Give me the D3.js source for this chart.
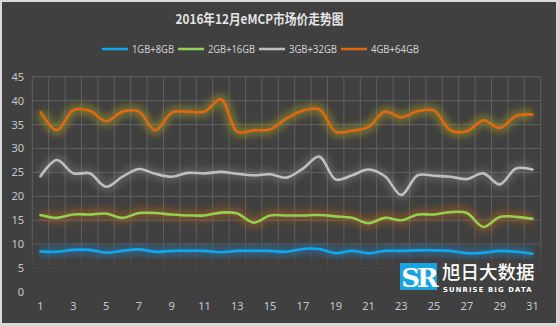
<!DOCTYPE html>
<html>
<head>
<meta charset="utf-8">
<script src="https://cdn.jsdelivr.net/npm/d3@7/dist/d3.min.js"></script>
<style>
  html, body { margin: 0; padding: 0; background: #d9d9d9; }
  svg { display: block; }
</style>
</head>
<body>
<svg id="chart" width="559" height="326"></svg>
<script>
// December 2016 eMCP market prices, one value per day
const days = d3.range(1, 32);
const seriesNames = ["1GB+8GB", "2GB+16GB", "3GB+32GB", "4GB+64GB"];
const price1GB8GB = [8.5, 8.4, 8.8, 8.8, 8.2, 8.6, 8.9, 8.4, 8.6, 8.6,
  8.6, 8.3, 8.6, 8.6, 8.6, 8.4, 9.0, 9.0, 8.1, 8.6,
  8.1, 8.6, 8.6, 8.7, 8.7, 8.6, 8.1, 8.2, 8.6, 8.4, 8.0];
const price2GB16GB = [16.1, 15.5, 16.2, 16.2, 16.4, 15.5, 16.5, 16.5, 16.2, 16.0,
  16.0, 16.6, 16.4, 14.5, 16.0, 16.0, 16.0, 16.1, 15.8, 15.5,
  14.4, 15.5, 15.0, 16.2, 16.2, 16.7, 16.5, 13.6, 15.7, 15.7, 15.3];
const price3GB32GB = [24.2, 27.6, 24.8, 24.8, 22.0, 24.1, 25.7, 24.7, 24.1, 24.9,
  24.8, 25.1, 24.7, 24.4, 24.6, 23.9, 25.8, 28.3, 23.5, 24.4,
  25.6, 24.2, 20.3, 24.4, 24.3, 24.1, 23.6, 24.8, 22.5, 25.8, 25.6];
const price4GB64GB = [37.6, 33.8, 38.0, 37.9, 35.7, 37.7, 37.7, 33.8, 37.5, 37.7,
  37.7, 40.3, 33.5, 33.8, 34.0, 36.3, 37.9, 38.2, 33.5, 33.7,
  34.5, 37.7, 36.5, 37.8, 37.9, 33.8, 33.6, 35.9, 34.3, 36.8, 37.1];
const yTicks = [0, 5, 10, 15, 20, 25, 30, 35, 40, 45];
const xTickDays = days.filter(d => d % 2 === 1);

const lineColors = ["#0fa8ec", "#92d050", "#bfbfbf", "#e2680f"];
const glowColors = ["#1f7fc0", "#b8621c", "#9a9a9a", "#a8a028"];
const glowOpacity = [0.45, 0.45, 0.28, 0.45];
const seriesValues = [price1GB8GB, price2GB16GB, price3GB32GB, price4GB64GB];

const svg = d3.select("#chart");
const W = 559, H = 326;

// frame
svg.append("rect").attr("x", 0).attr("y", 0).attr("width", W).attr("height", H).attr("fill", "#d9d9d9");
svg.append("rect").attr("x", 2).attr("y", 2).attr("width", 554).attr("height", 321).attr("fill", "#404040");

const defs = svg.append("defs");
const blur = defs.append("filter").attr("id", "glow")
  .attr("x", "-10%").attr("y", "-100%").attr("width", "120%").attr("height", "300%");
blur.append("feGaussianBlur").attr("stdDeviation", 3.2);

// grid fades out toward the bottom
const fade = defs.append("linearGradient").attr("id", "fade")
  .attr("gradientUnits", "userSpaceOnUse").attr("x1", 0).attr("y1", 70).attr("x2", 0).attr("y2", 295);
fade.append("stop").attr("offset", 0).attr("stop-color", "#fff").attr("stop-opacity", 1);
fade.append("stop").attr("offset", 0.72).attr("stop-color", "#fff").attr("stop-opacity", 1);
fade.append("stop").attr("offset", 0.92).attr("stop-color", "#fff").attr("stop-opacity", 0);
fade.append("stop").attr("offset", 1).attr("stop-color", "#fff").attr("stop-opacity", 0);
defs.append("mask").attr("id", "gridMask")
  .append("rect").attr("x", 0).attr("y", 0).attr("width", W).attr("height", H).attr("fill", "url(#fade)");

const x = d3.scaleBand().domain(days).range([32.3, 540.7]).padding(0);
const y = d3.scaleLinear().domain([0, 45]).range([292, 76.7]);
const cx = d => x(d) + x.bandwidth() / 2;

// title, condensed to its set width
const title = svg.append("text")
  .attr("x", 0).attr("y", 0)
  .attr("text-anchor", "middle")
  .attr("font-family", "'Noto Sans CJK SC', sans-serif")
  .attr("font-weight", "bold")
  .attr("font-size", 13.5)
  .attr("fill", "#e4e4e4")
  .text("2016年12月eMCP市场价走势图");
const tw = title.node().getComputedTextLength();
title.attr("transform", `translate(259.5,24) scale(${Math.min(1, 168 / tw)},1)`);

// legend
const legend = svg.append("g").attr("font-family", "'Noto Sans', 'DejaVu Sans', sans-serif")
  .attr("font-size", 10.5).attr("fill", "#d0d0d0");
const legendLineX = [102, 178, 259, 341];
const legendTextW = [42, 47, 48, 48];
seriesNames.forEach((name, i) => {
  const lx = legendLineX[i];
  legend.append("line").attr("x1", lx).attr("x2", lx + 26).attr("y1", 49).attr("y2", 49)
    .attr("stroke", lineColors[i]).attr("stroke-width", 2.5);
  legend.append("text").attr("x", lx + 30).attr("y", 53)
    .attr("textLength", legendTextW[i]).attr("lengthAdjust", "spacingAndGlyphs").text(name);
});

// grid
const grid = svg.append("g").attr("mask", "url(#gridMask)")
  .attr("stroke", "#5f5f5f").attr("stroke-width", 1);
grid.selectAll("line.h").data(yTicks).join("line").attr("class", "h")
  .attr("x1", x.range()[0]).attr("x2", x.range()[1])
  .attr("y1", d => y(d)).attr("y2", d => y(d));
const edges = days.map(d => x(d)).concat([x.range()[1]]);
grid.selectAll("line.v").data(edges).join("line").attr("class", "v")
  .attr("x1", d => d).attr("x2", d => d)
  .attr("y1", y(45)).attr("y2", y(0));

// axes
const yAxis = svg.append("g").attr("transform", "translate(24,0)")
  .call(d3.axisLeft(y).tickValues(yTicks).tickSize(0).tickPadding(0));
const xAxis = svg.append("g").attr("transform", "translate(0,302)")
  .call(d3.axisBottom(x).tickValues(xTickDays).tickSize(0).tickPadding(0));
[yAxis, xAxis].forEach(a => {
  a.select(".domain").remove();
  a.selectAll("text").attr("fill", "#c4c8cc").attr("font-size", 11)
    .attr("font-family", "'Noto Sans', 'DejaVu Sans', sans-serif");
});

// lines with glow
const line = d3.line().x((v, i) => cx(days[i])).y(v => y(v)).curve(d3.curveCatmullRom.alpha(0.5));
const glowG = svg.append("g");
const lineG = svg.append("g");
seriesValues.forEach((vals, i) => {
  glowG.append("path").attr("d", line(vals)).attr("fill", "none")
    .attr("stroke", glowColors[i]).attr("stroke-width", 11).attr("stroke-opacity", glowOpacity[i])
    .attr("stroke-linejoin", "round").attr("filter", "url(#glow)");
});
seriesValues.forEach((vals, i) => {
  lineG.append("path").attr("d", line(vals)).attr("fill", "none")
    .attr("stroke", lineColors[i]).attr("stroke-width", 2.6)
    .attr("stroke-linejoin", "round").attr("stroke-linecap", "round");
});

// brand mark
const logo = svg.append("g");
logo.append("rect").attr("x", 400).attr("y", 263).attr("width", 37).attr("height", 27).attr("fill", "#1aa3e0");
logo.append("text").attr("x", 418.5).attr("y", 287).attr("text-anchor", "middle")
  .attr("font-family", "'DejaVu Serif', serif").attr("font-weight", "bold")
  .attr("font-size", 26).attr("fill", "#ffffff").attr("letter-spacing", -3).text("SR");
logo.append("text").attr("x", 442).attr("y", 279)
  .attr("font-family", "'Noto Sans CJK SC', sans-serif").attr("font-weight", 500)
  .attr("font-size", 18.5).attr("fill", "#ffffff").text("旭日大数据");
logo.append("text").attr("x", 443).attr("y", 292)
  .attr("font-family", "'DejaVu Sans', sans-serif").attr("font-weight", "bold")
  .attr("font-size", 6.8).attr("letter-spacing", 1.15).attr("fill", "#ffffff").text("SUNRISE BIG DATA");
</script>
</body>
</html>
